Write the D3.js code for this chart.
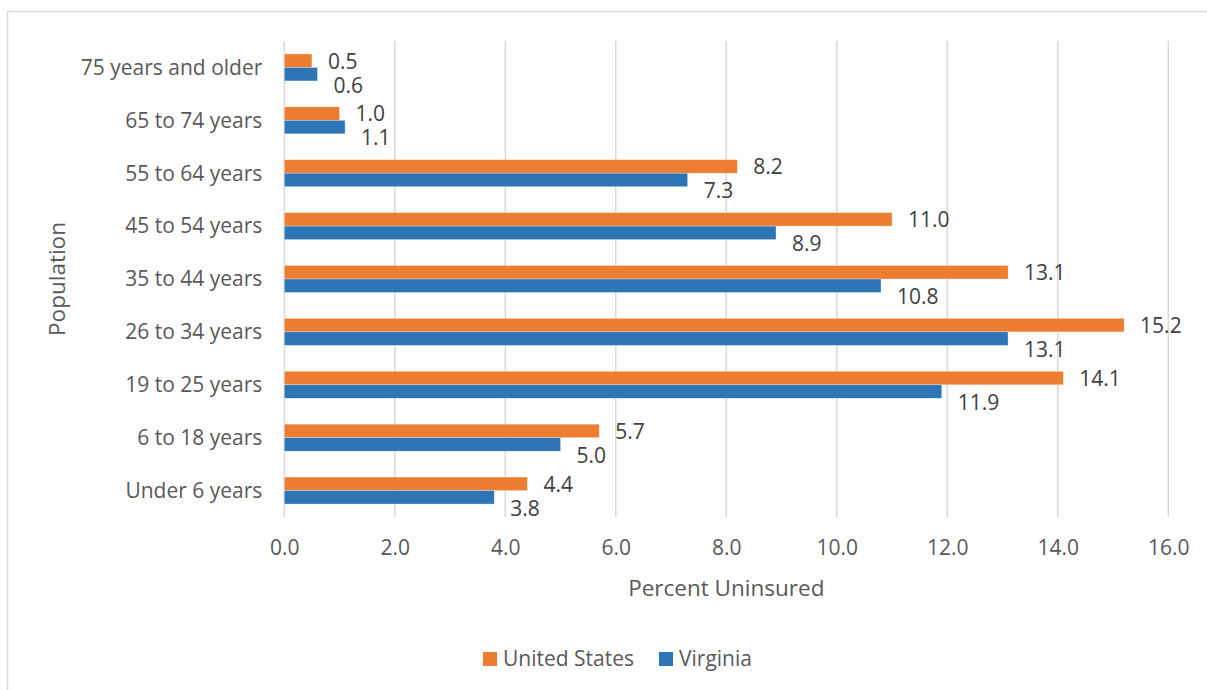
<!DOCTYPE html>
<html>
<head>
<meta charset="utf-8">
<script src="https://cdn.jsdelivr.net/npm/d3@7"></script>
<style>
  html, body { margin: 0; padding: 0; background: #fff; }
  svg { display: block; font-family: "Open Sans", sans-serif; }
</style>
</head>
<body>
<svg id="chart" width="1207" height="690"></svg>
<script>
const categories = ["75 years and older","65 to 74 years","55 to 64 years","45 to 54 years","35 to 44 years","26 to 34 years","19 to 25 years","6 to 18 years","Under 6 years"];
const seriesNames = ["United States","Virginia"];
const usValues = [0.5, 1.0, 8.2, 11.0, 13.1, 15.2, 14.1, 5.7, 4.4];
const vaValues = [0.6, 1.1, 7.3, 8.9, 10.8, 13.1, 11.9, 5.0, 3.8];
const xTicks = [0, 2, 4, 6, 8, 10, 12, 14, 16];
const colors = ["#ED7D31", "#2E75B6"];
const xTitle = "Percent Uninsured";
const yTitle = "Population";

const svg = d3.select("#chart");
const W = 1207, H = 690;
const plot = { left: 284.3, right: 1168.3, top: 41, bottom: 517 };

// outer chart border
svg.append("rect").attr("x", 7.5).attr("y", 11.5).attr("width", W + 20).attr("height", H + 20)
  .attr("fill", "none").attr("stroke", "#d9d9d9").attr("stroke-width", 1.5);

const x = d3.scaleLinear().domain([0, 16]).range([plot.left, plot.right]);
const y = d3.scaleBand().domain(categories).range([plot.top, plot.bottom]).padding(0);
const ys = d3.scaleBand().domain(seriesNames).range([0, y.bandwidth()]).paddingInner(0).paddingOuter(0.96);

// gridlines
svg.append("g").selectAll("line").data(xTicks).join("line")
  .attr("x1", d => x(d)).attr("x2", d => x(d))
  .attr("y1", plot.top).attr("y2", plot.bottom)
  .attr("stroke", "#d9d9d9").attr("stroke-width", 1.5);

// x tick labels via axis
const xAxis = d3.axisBottom(x).tickValues(xTicks).tickFormat(d3.format(".1f")).tickSize(0).tickPadding(0);
const gx = svg.append("g").attr("transform", `translate(0, ${plot.bottom + 38})`).call(xAxis);
gx.select(".domain").remove();
gx.selectAll("text").attr("font-size", 21).attr("fill", "#595959")
  .attr("font-family", "'Open Sans', sans-serif").attr("dy", "0");

// y category labels via axis
const yAxis = d3.axisLeft(y).tickSize(0).tickPadding(0);
const gy = svg.append("g").attr("transform", `translate(${plot.left - 22}, 0)`).call(yAxis);
gy.select(".domain").remove();
gy.selectAll("text").attr("font-size", 21).attr("fill", "#595959")
  .attr("font-family", "'Open Sans', sans-serif").attr("dy", "0.35em");

const rows = categories.map((c, i) => ({ cat: c, vals: [usValues[i], vaValues[i]] }));

// bars
const groups = svg.append("g").selectAll("g").data(rows).join("g")
  .attr("transform", d => `translate(0, ${y(d.cat)})`);
groups.selectAll("rect").data(d => d.vals.map((v, j) => ({ v, s: seriesNames[j], j }))).join("rect")
  .attr("x", x(0))
  .attr("y", d => ys(d.s))
  .attr("width", d => x(d.v) - x(0))
  .attr("height", ys.bandwidth())
  .attr("fill", d => colors[d.j])
  .attr("stroke", "#ffffff").attr("stroke-opacity", 0.5).attr("stroke-width", 0.6);

// value labels
groups.selectAll("text").data(d => d.vals.map((v, j) => ({ v, s: seriesNames[j], j }))).join("text")
  .attr("x", d => x(d.v) + 16)
  .attr("y", d => ys(d.s) + ys.bandwidth() / 2 + (d.j === 1 ? 11 : 0.5))
  .attr("dy", "0.35em")
  .attr("font-size", 21).attr("fill", "#404040")
  .text(d => d3.format(".1f")(d.v));

// axis titles
svg.append("text").attr("x", (plot.left + plot.right) / 2).attr("y", 588).attr("dy", "0.35em")
  .attr("text-anchor", "middle").attr("font-size", 22.5).attr("fill", "#595959").text(xTitle);
svg.append("text").attr("transform", `translate(57, ${(plot.top + plot.bottom) / 2}) rotate(-90)`)
  .attr("dy", "0.35em").attr("text-anchor", "middle").attr("font-size", 22.5).attr("fill", "#595959").text(yTitle);

// legend
const legend = svg.append("g").attr("transform", "translate(483, 659)");
const legX = [0, 176];
seriesNames.forEach((s, i) => {
  const g = legend.append("g").attr("transform", `translate(${legX[i]}, 0)`);
  g.append("rect").attr("x", 0).attr("y", -7).attr("width", 14).attr("height", 14).attr("fill", colors[i]);
  g.append("text").attr("x", 20).attr("y", 0).attr("dy", "0.35em").attr("font-size", 21)
    .attr("fill", "#595959").text(s);
});
</script>
</body>
</html>
